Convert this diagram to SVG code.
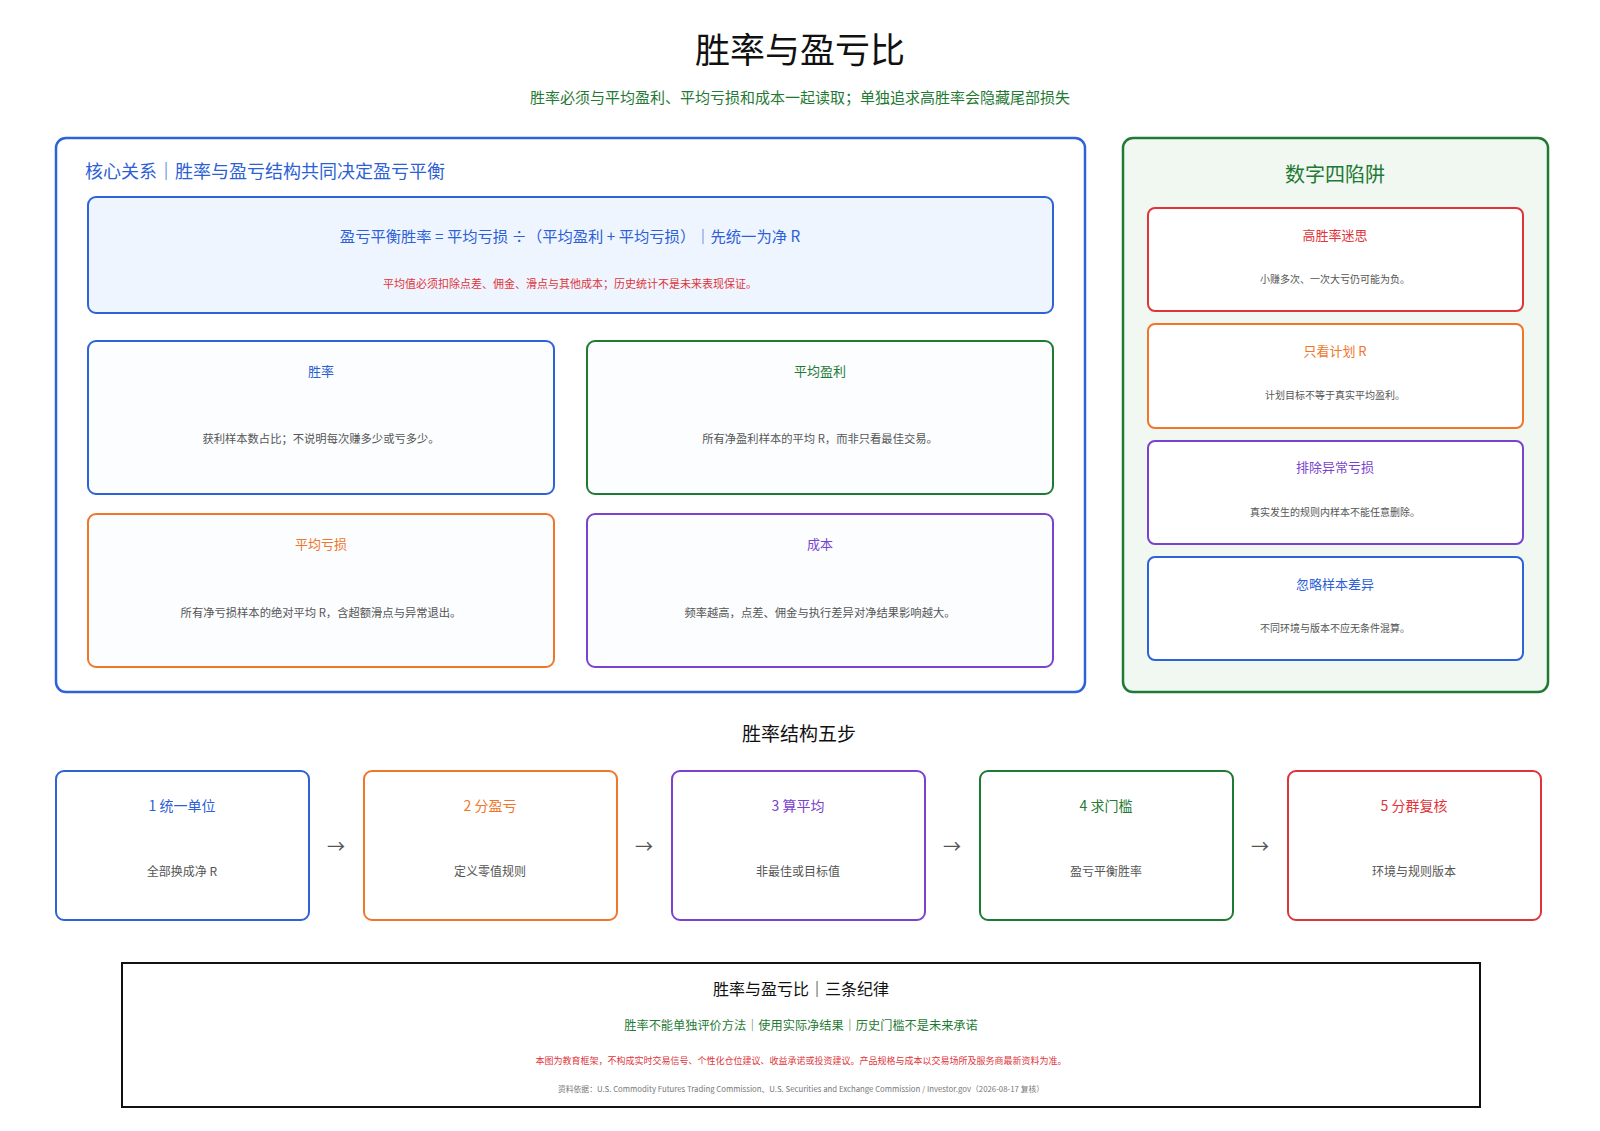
<svg xmlns="http://www.w3.org/2000/svg" width="1600" height="1131" viewBox="0 0 1600 1131">
<style>
text{font-family:"Noto Sans CJK SC","Noto Sans",sans-serif;text-anchor:middle}
.blue{fill:#2d5fd6}.green{fill:#1f7a34}.orange{fill:#f0762b}.purple{fill:#7a43cf}.red{fill:#e0343a}
.sb{stroke:#2d62d8}.sg{stroke:#1f7a34}.so{stroke:#f0762b}.sp{stroke:#7a43cf}.sr{stroke:#e0343a}
.card{fill:#fbfdff;stroke-width:2}
.tcard{fill:#ffffff;stroke-width:2}
.step{fill:#ffffff;stroke-width:2}
.ct{font-size:13px}
.cb{font-size:11.3px;fill:#555}
.rt{font-size:13px}
.rb{font-size:10px;fill:#555}
.st{font-size:14px}
.sbd{font-size:12px;fill:#555}
.arr{font-size:18px;fill:#555}
</style>
<rect width="1600" height="1131" fill="#ffffff"/>
<g id="header">
<text x="800" y="63" font-size="35" fill="#111">胜率与盈亏比</text>
<text x="800" y="103" font-size="15" class="green">胜率必须与平均盈利、平均亏损和成本一起读取；单独追求高胜率会隐藏尾部损失</text>
</g>
<g id="core-panel">
<rect x="56" y="138" width="1029" height="554" rx="10" fill="#ffffff" class="sb" stroke-width="2.5"/>
<text x="85" y="178" font-size="18" class="blue" style="text-anchor:start">核心关系｜胜率与盈亏结构共同决定盈亏平衡</text>
</g>
<g id="formula">
<rect x="88" y="197" width="965" height="116" rx="8" fill="#eef5ff" class="sb" stroke-width="2"/>
<text x="570" y="242" font-size="15.3" class="blue">盈亏平衡胜率 = 平均亏损 ÷（平均盈利 + 平均亏损）｜先统一为净 R</text>
<text x="570" y="288" font-size="11" class="red">平均值必须扣除点差、佣金、滑点与其他成本；历史统计不是未来表现保证。</text>
</g>
<g id="card-winrate">
<rect x="88" y="341" width="466" height="153" rx="8" class="card sb"/>
<text x="321" y="376" class="ct blue">胜率</text>
<text x="321" y="443" class="cb">获利样本数占比；不说明每次赚多少或亏多少。</text>
</g>
<g id="card-avgwin">
<rect x="587" y="341" width="466" height="153" rx="8" class="card sg"/>
<text x="820" y="376" class="ct green">平均盈利</text>
<text x="820" y="443" class="cb">所有净盈利样本的平均 R，而非只看最佳交易。</text>
</g>
<g id="card-avgloss">
<rect x="88" y="514" width="466" height="153" rx="8" class="card so"/>
<text x="321" y="549" class="ct orange">平均亏损</text>
<text x="321" y="617" class="cb">所有净亏损样本的绝对平均 R，含超额滑点与异常退出。</text>
</g>
<g id="card-cost">
<rect x="587" y="514" width="466" height="153" rx="8" class="card sp"/>
<text x="820" y="549" class="ct purple">成本</text>
<text x="820" y="617" class="cb">频率越高，点差、佣金与执行差异对净结果影响越大。</text>
</g>
<g id="traps-panel">
<rect x="1123" y="138" width="425" height="554" rx="10" fill="#f1f8f1" class="sg" stroke-width="2.5"/>
<text x="1335" y="182" font-size="20" class="green">数字四陷阱</text>
</g>
<g id="trap-1">
<rect x="1148" y="208" width="375" height="103" rx="7" class="tcard sr"/>
<text x="1335" y="240" class="rt red">高胜率迷思</text>
<text x="1335" y="283" class="rb">小赚多次、一次大亏仍可能为负。</text>
</g>
<g id="trap-2">
<rect x="1148" y="324" width="375" height="104" rx="7" class="tcard so"/>
<text x="1335" y="356" class="rt orange">只看计划 R</text>
<text x="1335" y="399" class="rb">计划目标不等于真实平均盈利。</text>
</g>
<g id="trap-3">
<rect x="1148" y="441" width="375" height="103" rx="7" class="tcard sp"/>
<text x="1335" y="472" class="rt purple">排除异常亏损</text>
<text x="1335" y="516" class="rb">真实发生的规则内样本不能任意删除。</text>
</g>
<g id="trap-4">
<rect x="1148" y="557" width="375" height="103" rx="7" class="tcard sb"/>
<text x="1335" y="589" class="rt blue">忽略样本差异</text>
<text x="1335" y="632" class="rb">不同环境与版本不应无条件混算。</text>
</g>
<g id="steps-title">
<text x="799" y="741" font-size="19" fill="#111">胜率结构五步</text>
</g>
<g id="step-1">
<rect x="56" y="771" width="253" height="149" rx="8" class="step sb"/>
<text x="182" y="811" class="st blue">1 统一单位</text>
<text x="182" y="876" class="sbd">全部换成净 R</text>
</g>
<g id="step-2">
<rect x="364" y="771" width="253" height="149" rx="8" class="step so"/>
<text x="490" y="811" class="st orange">2 分盈亏</text>
<text x="490" y="876" class="sbd">定义零值规则</text>
</g>
<g id="step-3">
<rect x="672" y="771" width="253" height="149" rx="8" class="step sp"/>
<text x="798" y="811" class="st purple">3 算平均</text>
<text x="798" y="876" class="sbd">非最佳或目标值</text>
</g>
<g id="step-4">
<rect x="980" y="771" width="253" height="149" rx="8" class="step sg"/>
<text x="1106" y="811" class="st green">4 求门槛</text>
<text x="1106" y="876" class="sbd">盈亏平衡胜率</text>
</g>
<g id="step-5">
<rect x="1288" y="771" width="253" height="149" rx="8" class="step sr"/>
<text x="1414" y="811" class="st red">5 分群复核</text>
<text x="1414" y="876" class="sbd">环境与规则版本</text>
</g>
<g id="connectors">
<text x="336" y="853" class="arr">→</text>
<text x="644" y="853" class="arr">→</text>
<text x="952" y="853" class="arr">→</text>
<text x="1260" y="853" class="arr">→</text>
</g>
<g id="footer">
<rect x="122" y="963" width="1358" height="144" fill="#ffffff" stroke="#111" stroke-width="2"/>
<text x="801" y="995" font-size="16" fill="#111">胜率与盈亏比｜三条纪律</text>
<text x="801" y="1030" font-size="12.2" class="green">胜率不能单独评价方法｜使用实际净结果｜历史门槛不是未来承诺</text>
<text x="801" y="1064" font-size="9" class="red">本图为教育框架，不构成实时交易信号、个性化仓位建议、收益承诺或投资建议。产品规格与成本以交易场所及服务商最新资料为准。</text>
<text x="801" y="1092" font-size="7.8" fill="#777">资料依据：U.S. Commodity Futures Trading Commission、U.S. Securities and Exchange Commission / Investor.gov（2026-08-17 复核）</text>
</g>
</svg>
